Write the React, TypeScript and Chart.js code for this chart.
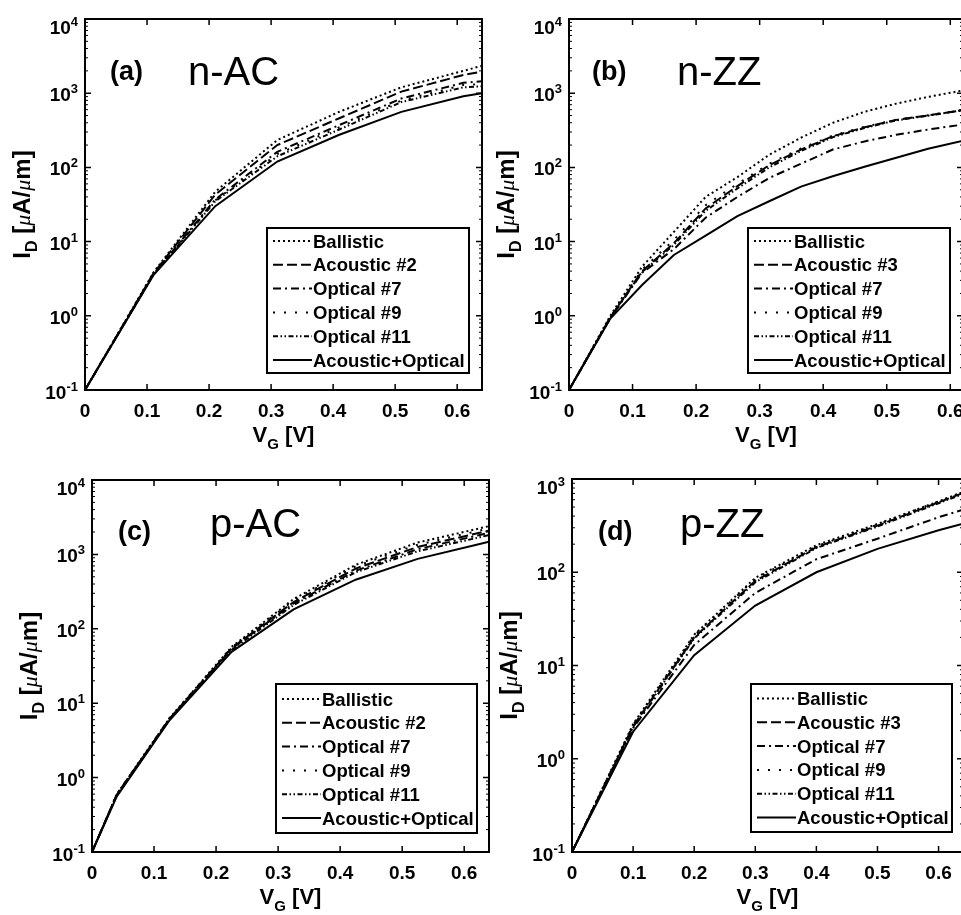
import React, { useEffect, useRef } from 'react';
import { Chart, registerables } from 'chart.js';

Chart.register(...registerables);

const FONT = "'Liberation Sans', Arial, Helvetica, sans-serif";
const SERIF = "'Liberation Serif', 'DejaVu Serif', serif";

// ---------- data (gate voltage V_G [V], drain current I_D [uA/um]) ----------
const V_A = [0, 0.11, 0.21, 0.31, 0.41, 0.51, 0.61, 0.64];
const A_BALLISTIC = [0.1, 3.8, 47, 234, 562, 1200, 2000, 2340];
const A_ACOUSTIC = [0.1, 3.7, 43, 200, 460, 1050, 1760, 1950];
const A_OPT7 = [0.1, 3.6, 37, 162, 372, 850, 1380, 1450];
const A_OPT9 = [0.1, 3.6, 36, 151, 347, 795, 1290, 1330];
const A_OPT11 = [0.1, 3.55, 35, 141, 324, 760, 1200, 1240];
const A_ALL = [0.1, 3.5, 30, 120, 275, 560, 910, 1000];

const V_B = [0, 0.065, 0.115, 0.165, 0.215, 0.265, 0.315, 0.365, 0.415, 0.465, 0.515, 0.565, 0.64];
const B_BALLISTIC = [0.1, 1.0, 4.6, 13.5, 40, 74, 148, 251, 398, 562, 724, 891, 1175];
const B_ACOUSTIC = [0.1, 0.95, 4.0, 9.5, 28, 56, 107, 174, 263, 347, 437, 501, 630];
const B_OPT7 = [0.1, 0.93, 3.8, 7.9, 21, 40, 72, 112, 174, 224, 275, 324, 400];
const B_OPT9 = [0.1, 0.96, 4.2, 10.5, 31, 60, 112, 180, 268, 352, 440, 505, 630];
const B_OPT11 = [0.1, 0.95, 3.9, 9.0, 26, 52, 100, 166, 255, 340, 430, 498, 625];
const B_ALL = [0.1, 0.92, 2.6, 6.6, 12, 22, 35, 55, 76, 102, 135, 178, 250];

const V_C = [0, 0.04, 0.125, 0.225, 0.325, 0.425, 0.525, 0.625, 0.64];
const C_BALLISTIC = [0.1, 0.6, 6.3, 57, 251, 724, 1445, 2240, 2400];
const C_ACOUSTIC = [0.1, 0.59, 6.2, 55, 229, 645, 1260, 1950, 2090];
const C_OPT7 = [0.1, 0.59, 6.1, 54, 219, 603, 1175, 1820, 1950];
const C_OPT9 = [0.1, 0.6, 6.3, 56, 240, 692, 1350, 2090, 2240];
const C_OPT11 = [0.1, 0.58, 6.1, 52, 209, 575, 1100, 1700, 1820];
const C_ALL = [0.1, 0.56, 5.9, 49, 182, 457, 871, 1380, 1480];

const V_D = [0, 0.1, 0.2, 0.3, 0.4, 0.5, 0.6, 0.64];
const D_BALLISTIC = [0.1, 2.35, 21.4, 87, 195, 330, 575, 725];
const D_ACOUSTIC = [0.1, 2.24, 20, 81, 186, 316, 562, 708];
const D_OPT7 = [0.1, 2.14, 16.6, 60, 138, 229, 389, 468];
const D_OPT9 = [0.1, 2.3, 21, 85, 190, 324, 575, 724];
const D_OPT11 = [0.1, 2.19, 19.5, 78, 182, 309, 550, 692];
const D_ALL = [0.1, 1.95, 12.9, 44, 100, 178, 282, 331];

const LEGEND_2 = ['Ballistic', 'Acoustic #2', 'Optical #7', 'Optical #9', 'Optical #11', 'Acoustic+Optical'];
const LEGEND_3 = ['Ballistic', 'Acoustic #3', 'Optical #7', 'Optical #9', 'Optical #11', 'Acoustic+Optical'];
const X_TICKS = [0, 0.1, 0.2, 0.3, 0.4, 0.5, 0.6];

// ---------- styles / layout ----------
const DASHES: number[][] = [
  [2, 3],
  [10, 4],
  [8, 4, 2, 4],
  [2, 9],
  [5, 2.5, 1.5, 2.5, 1.5, 2.5],
  [],
];

const CW = 1000;
const CH = 915;

interface Panel {
  key: string;
  tag: string;
  name: string;
  v: number[];
  series: number[][];
  labels: string[];
  yMax: number;
  xMax: number;
  area: { l: number; t: number; r: number; b: number };
  legend: { x: number; y: number; w: number; h: number };
  tagPos: { x: number; y: number };
  namePos: { x: number; y: number };
}

const PANELS: Panel[] = [
  {
    key: 'a', tag: '(a)', name: 'n-AC', v: V_A,
    series: [A_BALLISTIC, A_ACOUSTIC, A_OPT7, A_OPT9, A_OPT11, A_ALL],
    labels: LEGEND_2, yMax: 1e4, xMax: 0.64,
    area: { l: 85, t: 19, r: 482, b: 390 },
    legend: { x: 267, y: 228, w: 202, h: 145 },
    tagPos: { x: 110, y: 80 }, namePos: { x: 188, y: 85 },
  },
  {
    key: 'b', tag: '(b)', name: 'n-ZZ', v: V_B,
    series: [B_BALLISTIC, B_ACOUSTIC, B_OPT7, B_OPT9, B_OPT11, B_ALL],
    labels: LEGEND_3, yMax: 1e4, xMax: 0.62,
    area: { l: 569, t: 19, r: 963, b: 390 },
    legend: { x: 748, y: 228, w: 202, h: 145 },
    tagPos: { x: 592, y: 80 }, namePos: { x: 677, y: 85 },
  },
  {
    key: 'c', tag: '(c)', name: 'p-AC', v: V_C,
    series: [C_BALLISTIC, C_ACOUSTIC, C_OPT7, C_OPT9, C_OPT11, C_ALL],
    labels: LEGEND_2, yMax: 1e4, xMax: 0.64,
    area: { l: 92, t: 480, r: 489, b: 852 },
    legend: { x: 276, y: 684, w: 201, h: 149 },
    tagPos: { x: 118, y: 540 }, namePos: { x: 210, y: 537 },
  },
  {
    key: 'd', tag: '(d)', name: 'p-ZZ', v: V_D,
    series: [D_BALLISTIC, D_ACOUSTIC, D_OPT7, D_OPT9, D_OPT11, D_ALL],
    labels: LEGEND_3, yMax: 1e3, xMax: 0.64,
    area: { l: 572, t: 479, r: 963, b: 852 },
    legend: { x: 751, y: 684, w: 201, h: 148 },
    tagPos: { x: 598, y: 540 }, namePos: { x: 680, y: 537 },
  },
];

type Seg = { text: string; font: string; dy: number };

function segWidth(ctx: CanvasRenderingContext2D, segs: Seg[]) {
  let w = 0;
  for (const s of segs) {
    ctx.font = s.font;
    w += ctx.measureText(s.text).width;
  }
  return w;
}

function drawSegs(ctx: CanvasRenderingContext2D, segs: Seg[], x: number, y: number) {
  let cx = x;
  ctx.textAlign = 'left';
  ctx.textBaseline = 'alphabetic';
  for (const s of segs) {
    ctx.font = s.font;
    ctx.fillText(s.text, cx, y + s.dy);
    cx += ctx.measureText(s.text).width;
  }
}

function makeDecor(p: Panel) {
  return {
    id: 'decor_' + p.key,
    afterDraw(chart: any) {
      const ctx: CanvasRenderingContext2D = chart.ctx;
      const xs = chart.scales.x;
      const ys = chart.scales.y;
      const { left, right, top, bottom } = chart.chartArea;
      ctx.save();
      ctx.strokeStyle = '#000';
      ctx.fillStyle = '#000';
      ctx.setLineDash([]);

      // y ticks (log)
      const eMax = Math.round(Math.log10(p.yMax));
      ctx.lineWidth = 1.5;
      for (let e = -1; e <= eMax; e++) {
        const v = Math.pow(10, e);
        const py = ys.getPixelForValue(v);
        ctx.beginPath();
        ctx.moveTo(left, py); ctx.lineTo(left + 6, py);
        ctx.moveTo(right, py); ctx.lineTo(right - 6, py);
        ctx.stroke();
        if (e < eMax) {
          ctx.lineWidth = 1;
          for (let m = 2; m <= 9; m++) {
            const pm = ys.getPixelForValue(m * v);
            ctx.beginPath();
            ctx.moveTo(left, pm); ctx.lineTo(left + 3, pm);
            ctx.moveTo(right, pm); ctx.lineTo(right - 3, pm);
            ctx.stroke();
          }
          ctx.lineWidth = 1.5;
        }
      }
      // x ticks
      for (const v of X_TICKS) {
        if (v > p.xMax + 1e-9) continue;
        const px = xs.getPixelForValue(v);
        ctx.beginPath();
        ctx.moveTo(px, bottom); ctx.lineTo(px, bottom - 6);
        ctx.moveTo(px, top); ctx.lineTo(px, top + 6);
        ctx.stroke();
      }
      // frame
      ctx.lineWidth = 2;
      ctx.strokeRect(left, top, right - left, bottom - top);

      // y tick labels 10^e
      for (let e = -1; e <= eMax; e++) {
        const py = ys.getPixelForValue(Math.pow(10, e));
        const expTxt = String(e);
        ctx.font = `bold 13px ${FONT}`;
        const we = ctx.measureText(expTxt).width;
        ctx.font = `bold 19px ${FONT}`;
        const w10 = ctx.measureText('10').width;
        let base = py + 8;
        if (e === eMax) base = py + 15;
        if (e === -1) base = py + 9;
        const xEnd = left - 7;
        ctx.textAlign = 'left';
        ctx.textBaseline = 'alphabetic';
        ctx.font = `bold 19px ${FONT}`;
        ctx.fillText('10', xEnd - we - w10, base);
        ctx.font = `bold 13px ${FONT}`;
        ctx.fillText(expTxt, xEnd - we, base - 8);
      }
      // x tick labels
      ctx.font = `bold 19px ${FONT}`;
      ctx.textAlign = 'center';
      ctx.textBaseline = 'alphabetic';
      for (const v of X_TICKS) {
        if (v > p.xMax + 1e-9) continue;
        const px = xs.getPixelForValue(v);
        ctx.fillText(v === 0 ? '0' : v.toFixed(1), px, bottom + 27);
      }

      // x title
      const xt: Seg[] = [
        { text: 'V', font: `bold 22px ${FONT}`, dy: 0 },
        { text: 'G', font: `bold 15px ${FONT}`, dy: 7 },
        { text: ' [V]', font: `bold 22px ${FONT}`, dy: 0 },
      ];
      const xw = segWidth(ctx, xt);
      drawSegs(ctx, xt, (left + Math.min(right, p.area.r)) / 2 - xw / 2, bottom + 52);

      // y title (rotated)
      const yt: Seg[] = [
        { text: 'I', font: `bold 24px ${FONT}`, dy: 0 },
        { text: 'D', font: `bold 16px ${FONT}`, dy: 7 },
        { text: ' [', font: `bold 24px ${FONT}`, dy: 0 },
        { text: 'μ', font: `italic 22px ${SERIF}`, dy: 0 },
        { text: 'A/', font: `bold 24px ${FONT}`, dy: 0 },
        { text: 'μ', font: `italic 22px ${SERIF}`, dy: 0 },
        { text: 'm]', font: `bold 24px ${FONT}`, dy: 0 },
      ];
      const yw = segWidth(ctx, yt);
      ctx.save();
      ctx.translate(left - 55, (top + bottom) / 2);
      ctx.rotate(-Math.PI / 2);
      drawSegs(ctx, yt, -yw / 2, 0);
      ctx.restore();

      // panel tag and name
      ctx.textAlign = 'left';
      ctx.textBaseline = 'alphabetic';
      ctx.font = `bold 27px ${FONT}`;
      ctx.fillText(p.tag, p.tagPos.x, p.tagPos.y);
      ctx.font = `40px ${FONT}`;
      ctx.fillText(p.name, p.namePos.x, p.namePos.y);

      // legend
      const L = p.legend;
      ctx.fillStyle = '#fff';
      ctx.fillRect(L.x, L.y, L.w, L.h);
      ctx.fillStyle = '#000';
      ctx.lineWidth = 2;
      ctx.strokeRect(L.x, L.y, L.w, L.h);
      const step = 23.8;
      ctx.font = `bold 18.5px ${FONT}`;
      p.labels.forEach((lab, i) => {
        const cy = L.y + L.h / 2 + (i - 2.5) * step;
        ctx.setLineDash(DASHES[i]);
        ctx.lineWidth = 2;
        ctx.beginPath();
        ctx.moveTo(L.x + 6, cy);
        ctx.lineTo(L.x + 45, cy);
        ctx.stroke();
        ctx.setLineDash([]);
        ctx.fillText(lab, L.x + 46, cy + 6.5);
      });
      ctx.restore();
    },
  };
}

function PanelChart({ panel }: { panel: Panel }) {
  const ref = useRef<HTMLCanvasElement>(null);
  useEffect(() => {
    const canvas = ref.current;
    if (!canvas) return;
    const datasets = panel.series.map((s, i) => ({
      label: panel.labels[i],
      data: panel.v.map((v, j) => ({ x: v, y: s[j] })),
      borderColor: '#000',
      backgroundColor: '#000',
      borderWidth: 2,
      borderDash: DASHES[i],
      pointRadius: 0,
      tension: 0,
      fill: false,
    }));
    const chart = new Chart(canvas, {
      type: 'line',
      data: { datasets },
      options: {
        animation: false,
        responsive: false,
        devicePixelRatio: 1,
        events: [],
        layout: {
          padding: {
            left: panel.area.l,
            top: panel.area.t,
            right: CW - panel.area.r,
            bottom: CH - panel.area.b,
          },
        },
        scales: {
          x: { type: 'linear', min: 0, max: panel.xMax, display: false },
          y: { type: 'logarithmic', min: 0.1, max: panel.yMax, display: false },
        },
        plugins: {
          legend: { display: false },
          tooltip: { enabled: false },
          title: { display: false },
        },
      },
      plugins: [makeDecor(panel)],
    } as any);
    return () => chart.destroy();
  }, [panel]);
  return (
    <canvas
      ref={ref}
      width={CW}
      height={CH}
      style={{ position: 'absolute', left: 0, top: 0, width: CW, height: CH }}
    />
  );
}

export default function App() {
  return (
    <div
      style={{
        position: 'fixed',
        left: 0,
        top: 0,
        width: 961,
        height: 915,
        overflow: 'hidden',
        background: '#fff',
      }}
    >
      {PANELS.map((p) => (
        <PanelChart key={p.key} panel={p} />
      ))}
    </div>
  );
}
